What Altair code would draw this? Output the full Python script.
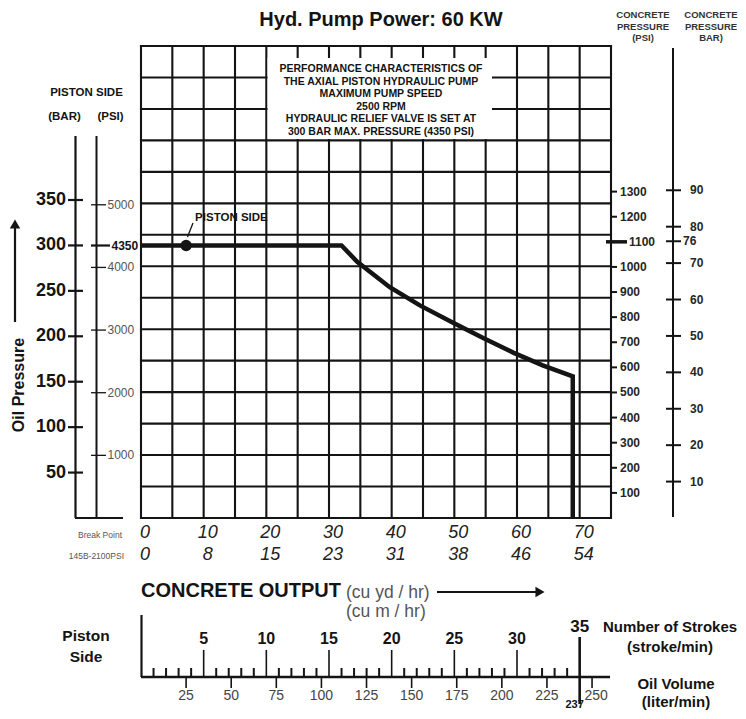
import altair as alt
import pandas as pd

# ------------------------------------------------------------------ data
curve_output = [0, 32.0, 34.5, 39.7, 44.5, 49.8, 54.6, 59.4, 64.1, 68.9, 68.9]
curve_pressure = [300, 300, 282, 254, 234, 215, 198, 182, 168, 156, 0]
dot_output = [7.2]
dot_pressure = [300]

grid_cols = [0, 5, 10, 15, 20, 25, 30, 35, 40, 45, 50, 55, 60, 65, 70, 75]
grid_rows = [0, 1, 2, 3, 4, 5, 6, 7, 8, 9, 10, 11, 12, 13, 14, 15]

bar_ticks = [50, 100, 150, 200, 250, 300, 350]
psi_ticks = [1000, 2000, 3000, 4000, 5000]
psi_mark = [4350]
conc_psi_ticks = [100, 200, 300, 400, 500, 600, 700, 800, 900, 1000, 1200, 1300]
conc_psi_mark = [1100]
conc_bar_ticks = [10, 20, 30, 40, 50, 60, 70, 80, 90]
conc_bar_mark = [76]

output_yd = [0, 10, 20, 30, 40, 50, 60, 70]
output_m = [0, 8, 15, 23, 31, 38, 46, 54]

stroke_major = [5, 10, 15, 20, 25, 30]
stroke_end = [35]
stroke_minor = [1, 2, 3, 4, 6, 7, 8, 9, 11, 12, 13, 14, 16, 17, 18, 19, 21, 22,
                23, 24, 26, 27, 28, 29, 31, 32, 33, 34]
oil_ticks = [25, 50, 75, 100, 125, 150, 175, 200, 225, 250]
oil_last = [250]
oil_at_35 = ["237"]

note_lines = ["PERFORMANCE CHARACTERISTICS OF",
              "THE AXIAL PISTON HYDRAULIC PUMP",
              "MAXIMUM PUMP SPEED",
              "2500 RPM",
              "HYDRAULIC RELIEF VALVE IS SET AT",
              "300 BAR MAX. PRESSURE (4350 PSI)"]

# ------------------------------------------------------------------ layout
W, H = 470, 472
FONT = "Liberation Sans"
INK = "#141414"
GREY = "#555555"


def P(x):
    return x - 141


def Q(y):
    return y - 46


X_OUT = alt.Scale(domain=[0, 75], nice=False, zero=False)
Y_BAR = alt.Scale(domain=[0, 519.5], nice=False, zero=False)
Y_PSI = alt.Scale(domain=[0, 519.5 * 14.5038], nice=False, zero=False)
Y_CPSI = alt.Scale(domain=[0, 1880], nice=False, zero=False)
Y_CBAR = alt.Scale(domain=[0, 1880 / 14.5038], nice=False, zero=False)
Y_ROWS = alt.Scale(domain=[0, 15], nice=False, zero=False)
X_STROKE = alt.Scale(domain=[0, 37.5], nice=False, zero=False)
X_OIL = alt.Scale(domain=[0, 260.5], nice=False, zero=False)

one = pd.DataFrame({"k": [0]})
layers = []


def txt(s, x, y, size, bold=False, italic=False, align="center", color=INK, angle=None):
    kw = dict(text=s, fontSize=size, font=FONT, align=align, baseline="middle", color=color)
    if bold:
        kw["fontWeight"] = "bold"
    if italic:
        kw["fontStyle"] = "italic"
    if angle is not None:
        kw["angle"] = angle
    return alt.Chart(one).mark_text(**kw).encode(x=alt.value(P(x)), y=alt.value(Q(y)))


def seg(x1, y1, x2, y2, w=2.0, color=INK):
    return alt.Chart(one).mark_rule(strokeWidth=w, color=color).encode(
        x=alt.value(P(x1)), x2=alt.value(P(x2)), y=alt.value(Q(y1)), y2=alt.value(Q(y2)))


def hticks(values, scale, x1, x2, w=2.0):
    return alt.Chart(pd.DataFrame({"v": values})).mark_rule(strokeWidth=w, color=INK).encode(
        y=alt.Y("v:Q", scale=scale, axis=None), x=alt.value(P(x1)), x2=alt.value(P(x2)))


def hlabels(values, scale, x, size, align="left", bold=False, color=INK):
    kw = dict(fontSize=size, font=FONT, align=align, baseline="middle", color=color)
    if bold:
        kw["fontWeight"] = "bold"
    return alt.Chart(pd.DataFrame({"v": values})).mark_text(**kw).encode(
        y=alt.Y("v:Q", scale=scale, axis=None), x=alt.value(P(x)), text="v:Q")


def vticks(values, scale, y1, y2, w=2.0):
    return alt.Chart(pd.DataFrame({"v": values})).mark_rule(strokeWidth=w, color=INK).encode(
        x=alt.X("v:Q", scale=scale, axis=None), y=alt.value(Q(y1)), y2=alt.value(Q(y2)))


# ------------------------------------------------------------------ grid
layers.append(alt.Chart(pd.DataFrame({"c": grid_cols})).mark_rule(
    strokeWidth=2.1, color=INK, strokeCap="square").encode(
    x=alt.X("c:Q", scale=X_OUT, axis=None), y=alt.value(0), y2=alt.value(H)))
layers.append(alt.Chart(pd.DataFrame({"r": grid_rows})).mark_rule(
    strokeWidth=2.1, color=INK, strokeCap="square").encode(
    y=alt.Y("r:Q", scale=Y_ROWS, axis=None), x=alt.value(0), x2=alt.value(W)))

# annotation box
layers.append(alt.Chart(one).mark_rect(color="white").encode(
    x=alt.value(P(267.6)), x2=alt.value(P(492)), y=alt.value(Q(58)), y2=alt.value(Q(139))))
for i, line in enumerate(note_lines):
    layers.append(txt(line, 381, 69 + i * 12.6, 10.5, bold=True))

# ------------------------------------------------------------------ curve
curve_df = pd.DataFrame({"output": curve_output, "pressure": curve_pressure,
                         "i": list(range(len(curve_output)))})
layers.append(alt.Chart(curve_df).mark_line(strokeWidth=4.5, color=INK, strokeJoin="miter").encode(
    x=alt.X("output:Q", scale=X_OUT, axis=None),
    y=alt.Y("pressure:Q", scale=Y_BAR, axis=None),
    order="i:Q"))
dot_df = pd.DataFrame({"output": dot_output, "pressure": dot_pressure})
layers.append(alt.Chart(dot_df).mark_point(filled=True, size=130, color=INK, opacity=1).encode(
    x=alt.X("output:Q", scale=X_OUT, axis=None),
    y=alt.Y("pressure:Q", scale=Y_BAR, axis=None)))
layers.append(alt.Chart(dot_df).mark_text(
    text="PISTON SIDE", fontSize=11.5, fontWeight="bold", font=FONT, align="left",
    baseline="middle", dx=9, dy=-27, color=INK).encode(
    x=alt.X("output:Q", scale=X_OUT, axis=None),
    y=alt.Y("pressure:Q", scale=Y_BAR, axis=None)))
layers.append(seg(187.5, 237, 193, 223, w=1.3))

# ------------------------------------------------------------------ title
layers.append(txt("Hyd. Pump Power: 60 KW", 381, 19.5, 20, bold=True))

# ------------------------------------------------------------------ left axes
layers.append(txt("PISTON SIDE", 86.5, 93, 11.5, bold=True))
layers.append(txt("(BAR)", 64.5, 117, 11.5, bold=True))
layers.append(txt("(PSI)", 110.5, 117, 11.5, bold=True))
layers.append(seg(75.5, 136, 75.5, 518, w=2.2))
layers.append(seg(75, 518, 123, 518, w=2.2))
layers.append(seg(96.5, 136, 96.5, 518, w=2.0))
layers.append(hticks(bar_ticks, Y_BAR, 68, 83, w=2.2))
layers.append(hlabels(bar_ticks, Y_BAR, 66, 18, align="right", bold=True))
layers.append(hticks(psi_ticks, Y_PSI, 91, 106, w=1.3))
layers.append(hlabels(psi_ticks, Y_PSI, 107.5, 12, color=GREY))
layers.append(hticks(psi_mark, Y_PSI, 91, 110, w=2.2))
layers.append(hlabels(psi_mark, Y_PSI, 111.5, 12, bold=True))

layers.append(txt("Oil Pressure", 18.5, 385, 16, bold=True, angle=270))
layers.append(seg(15, 322, 15, 228, w=2.2))
layers.append(alt.Chart(one).mark_point(shape="triangle-up", filled=True, size=110,
                                        color=INK, opacity=1).encode(
    x=alt.value(P(15)), y=alt.value(Q(224))))

# ------------------------------------------------------------------ right axes
for cx, third in [(643, "(PSI)"), (711, "BAR)")]:
    layers.append(txt("CONCRETE", cx, 15, 9.5, bold=True, color="#333333"))
    layers.append(txt("PRESSURE", cx, 26.5, 9.5, bold=True, color="#333333"))
    layers.append(txt(third, cx, 38, 9.5, bold=True, color="#333333"))

layers.append(hticks(conc_psi_ticks, Y_CPSI, 611, 617, w=2.0))
layers.append(hlabels(conc_psi_ticks, Y_CPSI, 620, 12, bold=True, color="#262626"))
layers.append(hticks(conc_psi_mark, Y_CPSI, 606, 627, w=3.5))
layers.append(hlabels(conc_psi_mark, Y_CPSI, 629, 12, bold=True, color="#262626"))

layers.append(seg(673, 48, 673, 517, w=2.0))
layers.append(hticks(conc_bar_ticks + conc_bar_mark, Y_CBAR, 666, 681, w=2.0))
layers.append(hlabels(conc_bar_ticks, Y_CBAR, 690, 12, bold=True, color="#262626"))
layers.append(hlabels(conc_bar_mark, Y_CBAR, 683, 12, bold=True, color="#262626"))

# ------------------------------------------------------------------ x labels
layers.append(alt.Chart(pd.DataFrame({"v": output_yd})).mark_text(
    fontSize=18, font=FONT, fontStyle="italic", align="center", baseline="middle",
    dx=4, color="#222222").encode(
    x=alt.X("v:Q", scale=X_OUT, axis=None), y=alt.value(Q(533)), text="v:Q"))
layers.append(alt.Chart(pd.DataFrame({"v": output_yd, "m": output_m})).mark_text(
    fontSize=18, font=FONT, fontStyle="italic", align="center", baseline="middle",
    dx=4, color="#222222").encode(
    x=alt.X("v:Q", scale=X_OUT, axis=None), y=alt.value(Q(555)), text="m:Q"))
layers.append(txt("Break Point", 122, 535, 8.5, align="right", color="#555555"))
layers.append(txt("145B-2100PSI", 124, 556, 8.5, align="right", color="#555555"))

layers.append(txt("CONCRETE OUTPUT", 141, 591, 20, bold=True, align="left"))
layers.append(txt("(cu yd / hr)", 346, 593, 17.5, align="left", color="#555555"))
layers.append(txt("(cu m / hr)", 346, 612, 17.5, align="left", color="#555555"))
layers.append(seg(437, 592, 536, 592, w=2.2))
layers.append(alt.Chart(one).mark_point(shape="triangle-right", filled=True, size=110,
                                        color=INK, opacity=1).encode(
    x=alt.value(P(540)), y=alt.value(Q(592))))

# ------------------------------------------------------------------ bottom scale
layers.append(txt("Piston", 86, 636, 15.5, bold=True))
layers.append(txt("Side", 86, 657, 15.5, bold=True))
layers.append(seg(141.5, 615, 141.5, 677, w=2.2))
layers.append(seg(141, 677, 610, 677, w=2.4))
layers.append(vticks(stroke_minor, X_STROKE, 668, 677, w=2.0))
layers.append(vticks(stroke_major, X_STROKE, 650, 677, w=1.6))
layers.append(alt.Chart(pd.DataFrame({"v": stroke_major})).mark_text(
    fontSize=16, font=FONT, fontWeight="bold", align="center", baseline="middle",
    color=INK).encode(x=alt.X("v:Q", scale=X_STROKE, axis=None), y=alt.value(Q(639)), text="v:Q"))
layers.append(vticks(stroke_end, X_STROKE, 637, 704, w=2.6))
layers.append(alt.Chart(pd.DataFrame({"v": stroke_end})).mark_text(
    fontSize=17, font=FONT, fontWeight="bold", align="center", baseline="middle",
    color=INK).encode(x=alt.X("v:Q", scale=X_STROKE, axis=None), y=alt.value(Q(627)), text="v:Q"))
layers.append(alt.Chart(pd.DataFrame({"v": stroke_end, "t": oil_at_35})).mark_text(
    fontSize=11, font=FONT, fontWeight="bold", align="center", baseline="middle",
    dx=-5, color=INK).encode(x=alt.X("v:Q", scale=X_STROKE, axis=None), y=alt.value(Q(705)), text="t:N"))
layers.append(vticks(oil_ticks, X_OIL, 677, 688, w=1.6))
layers.append(alt.Chart(pd.DataFrame({"v": oil_ticks[:-1]})).mark_text(
    fontSize=14, font=FONT, align="center", baseline="middle", color="#444444").encode(
    x=alt.X("v:Q", scale=X_OIL, axis=None), y=alt.value(Q(696)), text="v:Q"))
layers.append(alt.Chart(pd.DataFrame({"v": oil_last})).mark_text(
    fontSize=14, font=FONT, align="center", baseline="middle", color="#444444", dx=4).encode(
    x=alt.X("v:Q", scale=X_OIL, axis=None), y=alt.value(Q(696)), text="v:Q"))

layers.append(txt("Number of Strokes", 670, 627, 15, bold=True))
layers.append(txt("(stroke/min)", 670, 647, 15, bold=True))
layers.append(txt("Oil Volume", 676, 684, 15, bold=True))
layers.append(txt("(liter/min)", 676, 702, 15, bold=True))

chart = alt.layer(*layers).resolve_scale(x="independent", y="independent").properties(
    width=W, height=H,
    autosize=alt.AutoSizeParams(type="none"),
    padding={"left": 133, "top": 38, "right": 127, "bottom": 193},
).configure_view(stroke=None)

chart.save("out.html", embed_options={"renderer": "svg", "actions": False})
